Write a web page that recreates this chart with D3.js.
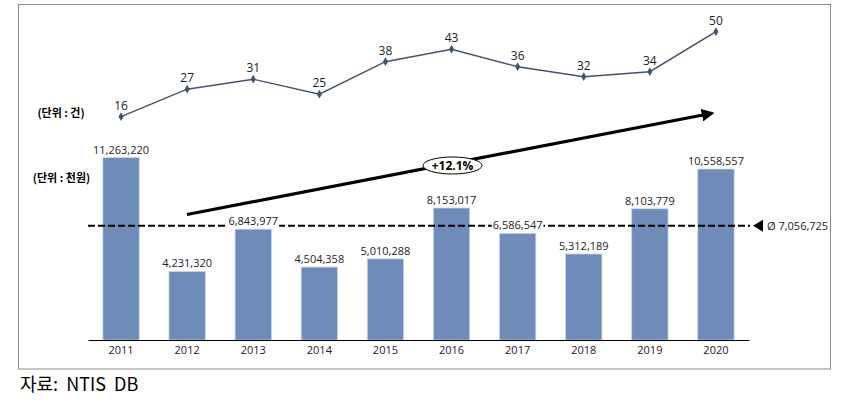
<!DOCTYPE html>
<html><head><meta charset="utf-8">
<script src="https://cdn.jsdelivr.net/npm/d3@7"></script>
<style>
html,body{margin:0;padding:0;background:#fff;}
svg text{font-family:"Segoe UI","Open Sans","Noto Sans CJK KR",sans-serif;}
</style></head>
<body><svg id="c" width="843" height="408"></svg>
<script>
const years = ["2011","2012","2013","2014","2015","2016","2017","2018","2019","2020"];
const amounts = [11263220,4231320,6843977,4504358,5010288,8153017,6586547,5312189,8103779,10558557];
const counts = [16,27,31,25,38,43,36,32,34,50];
const average = 7056725;
const growthLabel = "+12.1%";
const unitCount = "(단위 : 건)";
const unitAmount = "(단위 : 천원)";
const source = "자료:\u00a0 NTIS\u00a0 DB";

const svg = d3.select("#c");
const fmt = d3.format(",");
const x = d3.scaleBand().domain(years).range([88,749]).paddingInner(0.45).paddingOuter(0.225);
const y = d3.scaleLinear().domain([0,12000000]).range([340,145.7]);
const yc = d3.scaleLinear().domain([0,50]).range([156.7,31.7]);
const cx = d => x(d)+x.bandwidth()/2;

// frame
svg.append("rect").attr("x",18.5).attr("y",4.5).attr("width",812).attr("height",364.5)
  .attr("fill","none").attr("stroke","#8c8c8c").attr("stroke-width",1);

// bars
svg.selectAll("rect.bar").data(years).join("rect").attr("class","bar")
  .attr("x",d=>x(d)).attr("width",x.bandwidth())
  .attr("y",(d,i)=>y(amounts[i])).attr("height",(d,i)=>y(0)-y(amounts[i]))
  .attr("fill","#6f8bb8").attr("stroke","#c9d3e4").attr("stroke-width",0.8);

// axis
const ax = svg.append("g").attr("transform","translate(0,340)").call(d3.axisBottom(x).tickSize(0).tickPadding(6));
ax.select(".domain").attr("stroke","#000").attr("stroke-width",1.2);
ax.selectAll("text").attr("font-size",11).attr("fill","#222")
  .style("font-family",'"Segoe UI","Open Sans",sans-serif');

// average line
const ya = y(average);
svg.append("line").attr("x1",88).attr("x2",750).attr("y1",ya).attr("y2",ya)
  .attr("stroke","#000").attr("stroke-width",2).attr("stroke-dasharray","7,3");
svg.append("path").attr("d",`M753,${ya} L763,${ya-6} L763,${ya+6} Z`).attr("fill","#000");
svg.append("text").attr("x",767).attr("y",ya+4).attr("font-size",11).attr("fill","#222")
  .text("Ø "+fmt(average));

// bar labels with white bg
const bl = svg.selectAll("g.bl").data(years).join("g").attr("class","bl");
bl.each(function(d,i){
  const g = d3.select(this);
  const t = g.append("text").attr("x",cx(d)).attr("y",y(amounts[i])-4).attr("text-anchor","middle")
    .attr("font-size",11).attr("fill","#222").text(fmt(amounts[i]));
  const b = t.node().getBBox();
  g.insert("rect","text").attr("x",b.x-1).attr("y",b.y+2).attr("width",b.width+2).attr("height",b.height-3).attr("fill","#fff");
});

// trend arrow
svg.append("defs").append("marker").attr("id","ah").attr("viewBox","0 0 10 10").attr("refX",8).attr("refY",5)
  .attr("markerWidth",4).attr("markerHeight",4).attr("orient","auto")
  .append("path").attr("d","M0,0 L10,5 L0,10 Z").attr("fill","#000");
svg.append("line").attr("x1",187).attr("y1",214.5).attr("x2",712).attr("y2",113.3)
  .attr("stroke","#000").attr("stroke-width",3.2).attr("marker-end","url(#ah)");
svg.append("ellipse").attr("cx",452.5).attr("cy",165.5).attr("rx",29.5).attr("ry",8.5)
  .attr("fill","#fff").attr("stroke","#000").attr("stroke-width",1);
svg.append("text").attr("x",452.5).attr("y",170).attr("text-anchor","middle").attr("font-size",12)
  .attr("font-weight","bold").attr("fill","#000").text(growthLabel);

// count line
const line = d3.line().x((d,i)=>cx(years[i])).y(d=>yc(d));
svg.append("path").datum(counts).attr("d",line).attr("fill","none").attr("stroke","#44546a").attr("stroke-width",1.4);
svg.selectAll("path.mk").data(counts).join("path").attr("class","mk")
  .attr("d",d3.symbol(d3.symbolDiamond,22)).attr("transform",(d,i)=>`translate(${cx(years[i])},${yc(d)})`)
  .attr("fill","#44546a");
svg.selectAll("text.cl").data(counts).join("text").attr("class","cl")
  .attr("x",(d,i)=>cx(years[i])).attr("y",d=>yc(d)-7).attr("text-anchor","middle")
  .attr("font-size",12).attr("fill","#222").text(d=>d);

// unit labels
svg.append("text").attr("x",61).attr("y",117).attr("text-anchor","middle").attr("font-size",11)
  .attr("font-weight","bold").attr("fill","#000").style("font-family",'"Noto Sans CJK KR",sans-serif').text(unitCount);
svg.append("text").attr("x",61.5).attr("y",182).attr("text-anchor","middle").attr("font-size",11)
  .attr("font-weight","bold").attr("fill","#000").style("font-family",'"Noto Sans CJK KR",sans-serif').text(unitAmount);

// source
svg.append("text").attr("x",20).attr("y",391).attr("font-size",18).attr("fill","#000")
  .style("font-family",'"Noto Sans CJK KR",sans-serif').text(source);
</script></body></html>
